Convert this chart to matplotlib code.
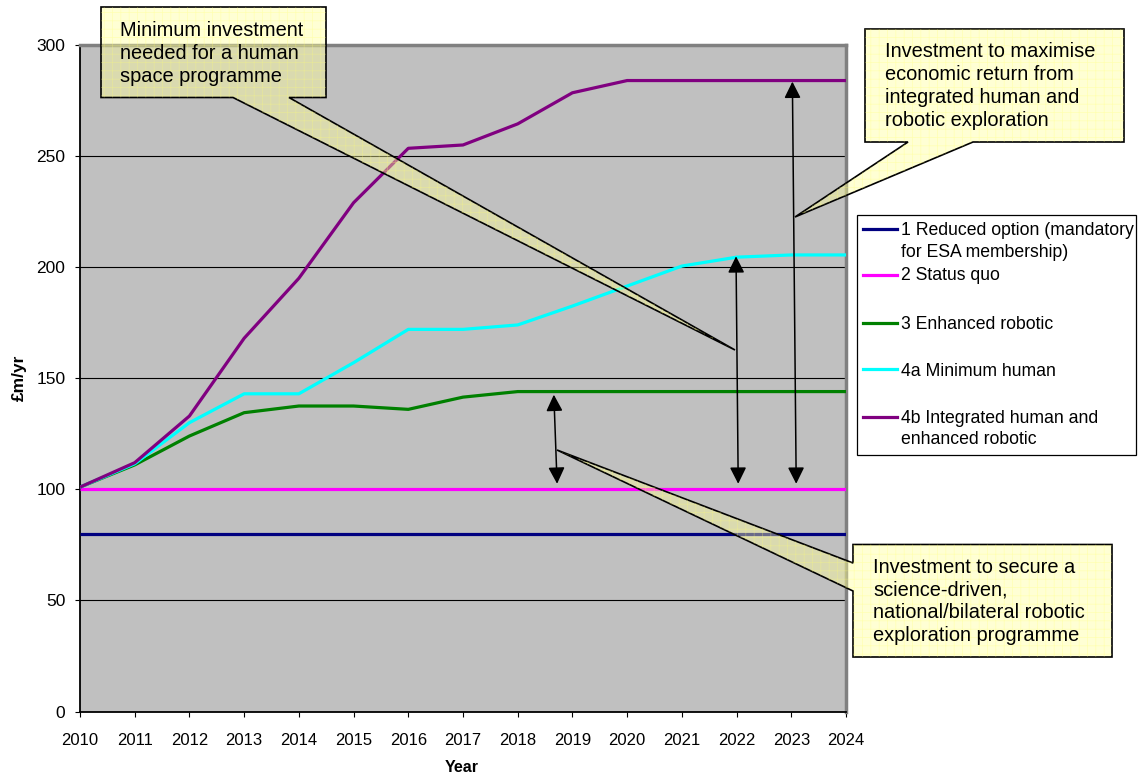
import numpy as np
import matplotlib
matplotlib.use('Agg')
import matplotlib.pyplot as plt
from matplotlib.patches import Polygon, Rectangle
from matplotlib.lines import Line2D

plt.rcParams['font.family'] = ['Liberation Sans', 'DejaVu Sans']
plt.rcParams['hatch.linewidth'] = 0.5

# data (£m/yr)
years = [2010, 2011, 2012, 2013, 2014, 2015, 2016, 2017, 2018, 2019, 2020, 2021, 2022, 2023, 2024]
reduced = [80, 80, 80, 80, 80, 80, 80, 80, 80, 80, 80, 80, 80, 80, 80]
status_quo = [100, 100, 100, 100, 100, 100, 100, 100, 100, 100, 100, 100, 100, 100, 100]
enhanced = [101, 111, 124, 134.5, 137.5, 137.5, 136, 141.5, 144, 144, 144, 144, 144, 144, 144]
min_human = [101, 111.5, 130, 143, 143, 157, 172, 172, 174, 182.5, 191.5, 200.5, 204.5, 205.5, 205.5]
integrated = [101, 112, 133, 168, 195, 229, 253.5, 255, 264.5, 278.5, 284, 284, 284, 284, 284]

series = [reduced, status_quo, enhanced, min_human, integrated]
labels = ['1 Reduced option (mandatory\nfor ESA membership)', '2 Status quo',
          '3 Enhanced robotic', '4a Minimum human',
          '4b Integrated human and\nenhanced robotic']
colors = ['#000080', '#FF00FF', '#008000', '#00FFFF', '#800080']

# double headed arrows marking the gaps (x start, y start, x end, y end)
arrows = [(2018.66, 142.6, 2018.72, 102.5),
          (2021.99, 204.9, 2022.03, 102.5),
          (2023.02, 283.5, 2023.09, 102.5)]

W, H = 1144, 780
fig = plt.figure(figsize=(W / 100, H / 100), dpi=100)


def px(x, y):
    # reference-image pixel -> figure fraction
    return (x / W, 1 - y / H)


l, b = px(80, 711.5)
r, t = px(846, 45)
ax = fig.add_axes([l, b, r - l, t - b])
ax.set_facecolor('#C0C0C0')

for vals, c in zip(series, colors):
    ax.plot(years, vals, color=c, lw=2.3, zorder=3, solid_capstyle='butt')

ax.set_xlim(2010, 2024)
ax.set_ylim(0, 300)
ax.set_xticks(years)
ax.set_yticks(np.arange(0, 301, 50))
ax.tick_params(axis='x', direction='out', length=3.6, width=0.8, labelsize=12, pad=12)
ax.tick_params(axis='y', direction='out', length=3.6, width=0.8, labelsize=12.5, pad=7)
ax.yaxis.grid(True, color='black', lw=0.8)
ax.set_axisbelow(True)
for s in ['top', 'right']:
    ax.spines[s].set_color('#808080')
    ax.spines[s].set_linewidth(2.5)
for s in ['left', 'bottom']:
    ax.spines[s].set_color('black')
    ax.spines[s].set_linewidth(1.3)

for x0, y0, x1, y1 in arrows:
    ax.annotate('', xy=(x1, y1), xytext=(x0, y0),
                arrowprops=dict(arrowstyle='<|-|>,head_length=0.4,head_width=0.2',
                                mutation_scale=25, color='black', lw=1.1,
                                shrinkA=0, shrinkB=0), zorder=4)

fig.text(*px(19, 378), '£m/yr', rotation=90, ha='center', va='center',
         fontsize=12.5, fontweight='bold')
fig.text(*px(462, 768), 'Year', ha='center', va='center',
         fontsize=11.5, fontweight='bold')

# legend, drawn Excel-style
fig.patches.append(Rectangle(px(856.7, 455), (1136 - 856.7) / W, (455 - 215) / H,
                             transform=fig.transFigure, facecolor='white',
                             edgecolor='black', lw=0.9, zorder=2))
handle_y = [229, 275, 323.3, 369.3, 416.7]
text_base = [[235, 256.7], [280], [329.3], [375.7], [422.7, 444.3]]
for c, lab, hy, bases in zip(colors, labels, handle_y, text_base):
    x0, y0 = px(863, hy)
    x1, _ = px(897, hy)
    fig.lines.append(Line2D([x0, x1], [y0, y0], transform=fig.transFigure,
                            color=c, lw=2.3, zorder=3))
    for line, yb in zip(lab.split('\n'), bases):
        fig.text(*px(901, yb), line, ha='left', va='baseline', fontsize=12.7, zorder=3)


def callout(pts, lines, tx, bases):
    xy = [px(x, y) for x, y in pts]
    fig.patches.append(Polygon(xy, closed=True, transform=fig.transFigure,
                               facecolor=(1, 1, 0.6, 0.42), edgecolor='black',
                               lw=1.2, zorder=5))
    fig.patches.append(Polygon(xy, closed=True, transform=fig.transFigure,
                               fill=False, hatch='++', edgecolor=(1, 1, 0.45, 0.35),
                               lw=0, zorder=5))
    for line, yb in zip(lines, bases):
        fig.text(*px(tx, yb), line, ha='left', va='baseline', fontsize=14.4, zorder=6)


callout([(101, 7), (326, 7), (326, 97.5), (289, 97.5), (735, 350), (233, 97.5), (101, 97.5)],
        ['Minimum investment', 'needed for a human', 'space programme'],
        120, [36, 59, 82])
callout([(865, 29), (1124, 29), (1124, 142), (973, 142), (795, 217), (908, 142), (865, 142)],
        ['Investment to maximise', 'economic return from', 'integrated human and',
         'robotic exploration'],
        885, [57, 80, 103, 126])
callout([(853, 544.5), (1112, 544.5), (1112, 657), (853, 657), (853, 591), (557, 450), (853, 563)],
        ['Investment to secure a', 'science-driven,', 'national/bilateral robotic',
         'exploration programme'],
        873, [573, 595, 618, 641])

fig.savefig('out.png', dpi=100)
plt.close(fig)
